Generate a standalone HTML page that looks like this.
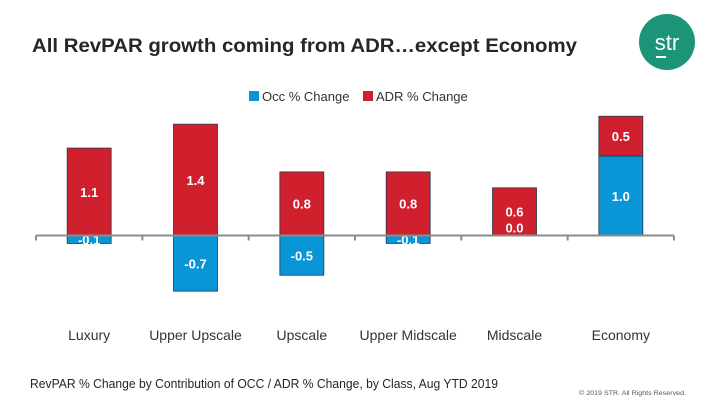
<!DOCTYPE html>
<html><head><meta charset="utf-8"><style>
body{margin:0;background:#fff;width:720px;height:405px;overflow:hidden;font-family:"Liberation Sans",sans-serif}
</style></head><body>
<svg id="chart" width="720" height="405" xmlns="http://www.w3.org/2000/svg">
<text x="32" y="52" font-size="19" font-weight="bold" fill="#262626" textLength="545" lengthAdjust="spacingAndGlyphs">All RevPAR growth coming from ADR…except Economy</text>
<g>
<circle cx="667" cy="42" r="28" fill="#1b9478"/>
<text x="667" y="50" font-size="22" fill="#fff" text-anchor="middle">str</text>
<rect x="656" y="56" width="10" height="2" fill="#fff"/>
</g>
<g>
<g><rect x="249" y="91" width="10" height="10" fill="#0a96d6"/><text x="262" y="101" font-size="13" fill="#333">Occ % Change</text></g>
<g><rect x="363" y="91" width="10" height="10" fill="#d0202d"/><text x="376" y="101" font-size="13" fill="#333">ADR % Change</text></g>
</g>
<g id="plot"></g>
<text x="30" y="388" font-size="12.5" fill="#262626" textLength="468" lengthAdjust="spacingAndGlyphs">RevPAR % Change by Contribution of OCC / ADR % Change, by Class, Aug YTD 2019</text>
<text x="579" y="395" font-size="6.5" fill="#555" textLength="107" lengthAdjust="spacingAndGlyphs">© 2019 STR. All Rights Reserved.</text>
</svg>
<script>
const categories=["Luxury","Upper Upscale","Upscale","Upper Midscale","Midscale","Economy"];
const occValues=[-0.1,-0.7,-0.5,-0.1,0.0,1.0];
const adrValues=[1.1,1.4,0.8,0.8,0.6,0.5];
const NS="http://www.w3.org/2000/svg";
const plot=document.getElementById('plot');
const x0=36,x1=674,base=235.5,unit=79.5;
const step=(x1-x0)/categories.length;
const xc=i=>x0+step*(i+0.5);
const yv=v=>base-v*unit;
function mk(tag,attrs){const e=document.createElementNS(NS,tag);for(const k in attrs)e.setAttribute(k,attrs[k]);plot.appendChild(e);return e;}
function seg(i,from,val,color,name){
  const a=yv(from),b=yv(from+val);
  const r=mk('rect',{x:xc(i)-22,y:Math.min(a,b),width:44,height:Math.abs(a-b),fill:color,stroke:'#1f3b4d','stroke-width':0.8});
  
  
}
function lab(i,y,txt,name){
  const t=mk('text',{x:xc(i),y:y,'font-size':13,'font-weight':'bold',fill:'#fff','text-anchor':'middle'});
  t.textContent=txt;
  
  
}
categories.forEach((c,i)=>{
  const o=occValues[i],a=adrValues[i];
  let pos=0;
  let occFrom=0;
  if(o>0){occFrom=0;pos=o;}
  if(o!==0)seg(i,occFrom,o,'#0a96d6','bar-occ-'+i);
  seg(i,pos,a,'#d0202d','bar-adr-'+i);
  lab(i,(yv(pos)+yv(pos+a))/2+5,a.toFixed(1),'label-adr-'+i);
  const oy=o===0?base-3:(yv(occFrom)+yv(occFrom+o))/2+5;
  lab(i,oy,o.toFixed(1),'label-occ-'+i);
  const t=mk('text',{x:xc(i),y:340,'font-size':14,fill:'#333','text-anchor':'middle'});
  t.textContent=c;
  
  
});
const ax=mk('line',{x1:x0,x2:x1,y1:base,y2:base,stroke:'#8c8c8c','stroke-width':2});


for(let k=0;k<=categories.length;k++){
  const tk=mk('line',{x1:x0+step*k,x2:x0+step*k,y1:base,y2:base+5,stroke:'#8c8c8c','stroke-width':2});
  
  
}
</script>
</body></html>
